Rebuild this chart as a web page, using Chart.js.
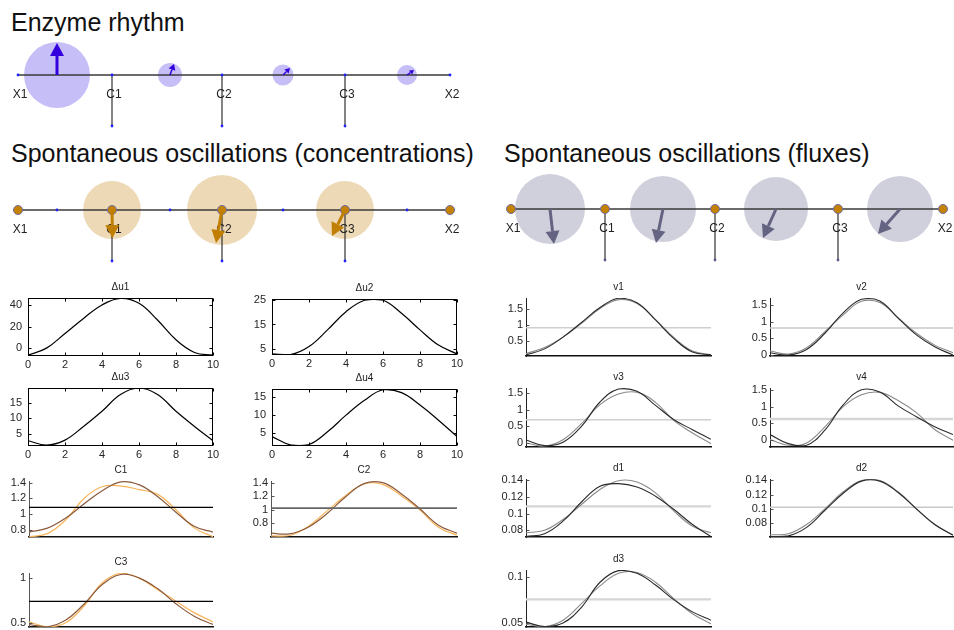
<!DOCTYPE html>
<html>
<head>
<meta charset="utf-8">
<script src="https://cdn.jsdelivr.net/npm/chart.js@4.4.1/dist/chart.umd.min.js"></script>
<style>
  body { margin: 0; background: #fff; width: 954px; height: 630px; position: relative; overflow: hidden;
         font-family: "Liberation Sans", Arial, sans-serif; }
  .head { position: absolute; font-size: 25px; line-height: 25px; color: #111; white-space: nowrap; }
  canvas { position: absolute; }
</style>
</head>
<body>
<div class="head" style="left:11px;top:10px">Enzyme rhythm</div>
<div class="head" style="left:11px;top:141px">Spontaneous oscillations (concentrations)</div>
<div class="head" style="left:504px;top:141px">Spontaneous oscillations (fluxes)</div>
<script>
// ---- network diagrams ----
const nodeNames = ['X1', 'C1', 'C2', 'C3', 'X2'];
const nodeX = [0, 0.94, 2.04, 3.27, 4.32];
const reactionX = [0.39, 1.52, 2.65, 3.89];
const stemDepth = -0.51;

const enzymeSize = [0.33, 0.12, 0.105, 0.10];
const enzymeDir = [[0, 0.32], [0.04, 0.11], [0.07, 0.07], [0.07, 0.05]];
const concSize = [0.29, 0.35, 0.29];
const concDir = [[0.005, -0.28], [-0.06, -0.33], [-0.13, -0.26]];
const fluxSize = [0.35, 0.33, 0.32, 0.33];
const fluxDir = [[0.04, -0.35], [-0.07, -0.34], [-0.13, -0.29], [-0.22, -0.25]];

// ---- time courses ----
const tGrid = [0, 1, 2, 3, 4, 5, 6, 7, 8, 9, 10];
const xTicks = [0, 2, 4, 6, 8, 10];

const du1 = [-6.5, 0, 13.5, 27.5, 40, 46, 41.5, 26, 7.7, -4, -6.5];
const du2 = [3, 2.7, 6, 12.8, 20.2, 24.9, 24.9, 19.6, 12.8, 6.6, 3];
const du3 = [2.8, 1.4, 3, 7.4, 12.3, 17.7, 19.8, 17.7, 12.3, 7.4, 2.8];
const du4 = [4, 1.7, 1.8, 5.3, 9.9, 14, 16.9, 16.1, 12.7, 8.5, 4];

const c1Dark = [0.77, 0.82, 0.95, 1.13, 1.30, 1.41, 1.37, 1.22, 1.02, 0.84, 0.77];
const c1Light = [0.71, 0.75, 0.925, 1.2, 1.35, 1.355, 1.31, 1.25, 1.05, 0.82, 0.71];
const c2Dark = [0.65, 0.64, 0.74, 0.94, 1.19, 1.39, 1.405, 1.24, 1.015, 0.77, 0.65];
const c2Light = [0.61, 0.615, 0.75, 0.98, 1.21, 1.385, 1.38, 1.21, 1.0, 0.74, 0.62];
const c3Dark = [0.48, 0.455, 0.53, 0.71, 0.93, 1.04, 1.0, 0.88, 0.71, 0.57, 0.48];
const c3Light = [0.51, 0.455, 0.5, 0.69, 0.95, 1.055, 1.0, 0.87, 0.74, 0.61, 0.51];
const cRef = [1.084, 1.025, 0.74];

const v1Dark = [0.06, 0.25, 0.62, 1.08, 1.55, 1.84, 1.7, 1.16, 0.57, 0.15, 0.06];
const v1Gray = [0.1, 0.29, 0.62, 1.05, 1.52, 1.8, 1.68, 1.17, 0.6, 0.18, 0.07];
const v2Dark = [0.06, -0.01, 0.16, 0.65, 1.27, 1.68, 1.63, 1.11, 0.6, 0.24, -0.01];
const v2Gray = [0.11, 0.02, 0.21, 0.7, 1.21, 1.62, 1.58, 1.12, 0.65, 0.29, 0.06];
const v3Dark = [0.09, -0.08, 0.02, 0.5, 1.23, 1.62, 1.55, 1.13, 0.7, 0.4, 0.11];
const v3Gray = [0.0, -0.09, 0.1, 0.58, 1.15, 1.47, 1.52, 1.22, 0.67, 0.3, -0.02];
const v4Dark = [0.17, -0.1, -0.15, 0.3, 1.05, 1.5, 1.43, 1.02, 0.7, 0.4, 0.17];
const v4Gray = [0.02, -0.15, -0.08, 0.4, 1.0, 1.35, 1.42, 1.18, 0.82, 0.32, 0.0];
const d1Dark = [0.0725, 0.076, 0.091, 0.114, 0.133, 0.136, 0.132, 0.121, 0.105, 0.087, 0.0725];
const d1Gray = [0.077, 0.08, 0.093, 0.111, 0.129, 0.1395, 0.138, 0.125, 0.103, 0.085, 0.077];
const d2Dark = [0.061, 0.062, 0.074, 0.098, 0.122, 0.139, 0.139, 0.123, 0.1, 0.078, 0.063];
const d2Gray = [0.0635, 0.065, 0.078, 0.1, 0.124, 0.14, 0.14, 0.124, 0.1, 0.078, 0.0635];
const d3Dark = [0.051, 0.0462, 0.05, 0.067, 0.094, 0.1065, 0.1036, 0.091, 0.075, 0.062, 0.053];
const d3Gray = [0.0486, 0.046, 0.053, 0.071, 0.09, 0.1036, 0.1045, 0.094, 0.076, 0.06, 0.049];
const fluxRef = [0.916, 0.81, 0.70, 0.63, 0.1088, 0.1023, 0.0754];

const du1Ticks = [0, 20, 40];
const du2Ticks = [5, 10, 15, 20, 25];
const du3Ticks = [5, 10, 15];
const du4Ticks = [5, 10, 15];
const cTicks = [0.8, 1, 1.2, 1.4];
const c3Ticks = [0.5, 1];
const vTicks1 = [0.5, 1, 1.5];
const vTicks = [0, 0.5, 1, 1.5];
const dTicks = [0.08, 0.1, 0.12, 0.14];
const d3Ticks = [0.05, 0.1];

Chart.defaults.animation = false;
Chart.defaults.font.family = '"Liberation Sans", Arial, sans-serif';
Chart.defaults.color = '#262626';

function makeCanvas(left, top, w, h) {
  const cv = document.createElement('canvas');
  cv.width = w; cv.height = h;
  Object.assign(cv.style, { left: left + 'px', top: top + 'px', width: w + 'px', height: h + 'px' });
  document.body.appendChild(cv);
  return cv;
}

function arrow(ctx, x0, y0, x1, y1, color) {
  const dx = x1 - x0, dy = y1 - y0, len = Math.hypot(dx, dy);
  const big = len > 20;
  const hl = big ? 13 : Math.max(3, len * 0.5), hw = big ? 7 : hl * 0.6;
  const ux = dx / len, uy = dy / len;
  const bx = x1 - ux * hl, by = y1 - uy * hl;
  ctx.strokeStyle = color; ctx.fillStyle = color;
  ctx.lineWidth = big ? 3 : 1.5;
  ctx.beginPath(); ctx.moveTo(x0, y0); ctx.lineTo(bx, by); ctx.stroke();
  ctx.beginPath();
  ctx.moveTo(x1, y1);
  ctx.lineTo(bx - uy * hw, by + ux * hw);
  ctx.lineTo(bx + uy * hw, by - ux * hw);
  ctx.closePath(); ctx.fill();
}

// circles + arrows + node names, all placed through the chart scales
const network = {
  id: 'network',
  beforeDatasetsDraw(chart, args, o) {
    const { ctx, scales: { x, y } } = chart;
    ctx.save();
    ctx.fillStyle = o.fill;
    o.at.forEach((cx, i) => {
      const r = x.getPixelForValue(cx + o.size[i]) - x.getPixelForValue(cx);
      ctx.beginPath();
      ctx.arc(x.getPixelForValue(cx), y.getPixelForValue(0), r, 0, Math.PI * 2);
      ctx.fill();
    });
    ctx.restore();
  },
  afterDatasetsDraw(chart, args, o) {
    const { ctx, scales: { x, y } } = chart;
    ctx.save();
    ctx.font = '12px "Liberation Sans", Arial, sans-serif';
    ctx.fillStyle = '#222';
    ctx.textAlign = 'center'; ctx.textBaseline = 'middle';
    nodeNames.forEach((n, i) => ctx.fillText(n, x.getPixelForValue(nodeX[i] + 0.02), y.getPixelForValue(-0.2)));
    o.at.forEach((cx, i) => {
      const [dx, dy] = o.dir[i];
      arrow(ctx, x.getPixelForValue(cx), y.getPixelForValue(0),
        x.getPixelForValue(cx + dx), y.getPixelForValue(dy), o.arrowColor);
    });
    ctx.restore();
  }
};

function diagram(left, top, cfg) {
  const cv = makeCanvas(left, top, 470, 95);
  const pts = xs => xs.map(x => ({ x, y: 0 }));
  const ds = [{ data: pts(nodeX), showLine: true, borderColor: '#3a3a3a', borderWidth: 1.3, pointRadius: 0, order: 4 }];
  nodeX.slice(1, 4).forEach(x => ds.push({
    data: [{ x, y: 0 }, { x, y: stemDepth }], showLine: true, borderColor: '#333', borderWidth: 1.2, pointRadius: 0, order: 3
  }));
  ds.push({
    data: cfg.dots.concat(nodeX.slice(1, 4).map(x => ({ x, y: stemDepth }))),
    pointRadius: 1.4, pointBackgroundColor: cfg.dotColor, pointBorderWidth: 0, order: 2
  });
  if (cfg.nodes) ds.push({
    data: pts(nodeX), pointRadius: 4.5, pointBackgroundColor: '#c48200',
    pointBorderColor: '#6b6ba8', pointBorderWidth: 1, order: 1
  });
  new Chart(cv, {
    type: 'scatter',
    data: { datasets: ds },
    options: {
      responsive: false, events: [],
      layout: { padding: 0, autoPadding: false },
      plugins: {
        legend: { display: false }, tooltip: { enabled: false },
        network: { at: cfg.at, size: cfg.size, dir: cfg.dir, fill: cfg.fill, arrowColor: cfg.arrowColor }
      },
      scales: {
        x: { display: false, min: -0.18, max: 4.52 },
        y: { display: false, min: -0.60, max: 0.35 }
      }
    },
    plugins: [network]
  });
}

diagram(0, 40, {
  at: reactionX, size: enzymeSize, dir: enzymeDir,
  fill: 'rgba(120,100,235,0.42)', arrowColor: '#3300dd',
  dots: nodeX.map(x => ({ x, y: 0 })), dotColor: '#2222ff', nodes: false
});
diagram(0, 175, {
  at: nodeX.slice(1, 4), size: concSize, dir: concDir,
  fill: 'rgba(210,160,70,0.4)', arrowColor: '#c07f00',
  dots: reactionX.map(x => ({ x, y: 0 })), dotColor: '#2222ff', nodes: true
});
diagram(493, 174, {
  at: reactionX, size: fluxSize, dir: fluxDir,
  fill: 'rgba(150,150,180,0.45)', arrowColor: '#646482',
  dots: [], dotColor: '#5a5a8a', nodes: true
});

// frame and inward tick marks
const frame = {
  id: 'frame',
  afterDraw(chart, args, o) {
    const { ctx, chartArea: a, scales: { x, y } } = chart;
    const L = Math.round(a.left) + 0.5, R = Math.round(a.right) - 0.5;
    const T = Math.round(a.top) + 0.5, B = Math.round(a.bottom) - 0.5;
    ctx.save();
    ctx.strokeStyle = o.box ? '#000' : '#555';
    ctx.lineWidth = 1;
    if (o.box) ctx.strokeRect(L, T, R - L, B - T);
    ctx.beginPath();
    if (o.box) {
      x.ticks.forEach(t => {
        const px = Math.round(x.getPixelForValue(t.value)) + 0.5;
        ctx.moveTo(px, B); ctx.lineTo(px, B - 3);
        ctx.moveTo(px, T); ctx.lineTo(px, T + 3);
      });
    }
    y.ticks.forEach(t => {
      const py = Math.round(y.getPixelForValue(t.value)) + 0.5;
      ctx.moveTo(L, py); ctx.lineTo(L + 3, py);
      if (o.box) { ctx.moveTo(R, py); ctx.lineTo(R - 3, py); }
    });
    ctx.stroke();
    ctx.restore();
  }
};

function panel(p) {
  const YW = 40, TH = 22, XH = 18, RP = 10;
  const [L, R, T, B] = p.box;
  const cv = makeCanvas(L - YW, T - TH, YW + R - L + RP, TH + B - T + XH);
  const isBox = p.kind === 'box';
  const datasets = p.series.map((s, k) => ({
    data: tGrid.map((x, i) => ({ x, y: s[0][i] })),
    borderColor: s[1], borderWidth: s[2], pointRadius: 0, tension: 0.4, order: k + 1
  }));
  if (p.ref !== undefined) datasets.push({
    data: [{ x: 0, y: p.ref }, { x: 10, y: p.ref }],
    borderColor: p.refColor, borderWidth: p.refWidth, pointRadius: 0, order: p.refOnTop ? 0 : 9
  });
  new Chart(cv, {
    type: 'line',
    data: { datasets },
    options: {
      responsive: false, events: [],
      layout: { padding: { right: RP }, autoPadding: false },
      plugins: {
        legend: { display: false }, tooltip: { enabled: false },
        title: {
          display: true, text: p.title, fullSize: false, color: '#222',
          font: { size: 10, weight: 'normal' }, padding: { top: 5, bottom: 5 }
        },
        frame: { box: isBox }
      },
      scales: {
        x: {
          type: 'linear', min: 0, max: 10,
          grid: { display: false, drawTicks: false },
          border: { display: !isBox, color: '#111', width: 1.6 },
          ticks: { display: isBox, font: { size: 11 }, padding: 2, maxRotation: 0 },
          afterBuildTicks: s => { s.ticks = xTicks.map(value => ({ value })); },
          afterFit: s => { s.height = XH; }
        },
        y: {
          min: p.y[0], max: p.y[1],
          grid: { display: false, drawTicks: false },
          border: { display: !isBox, color: p.axisColor || '#555', width: 1 },
          ticks: { font: { size: 11 }, padding: isBox ? 6 : 3, callback: v => +v.toFixed(3) },
          afterBuildTicks: s => { s.ticks = p.ticks.map(value => ({ value })); },
          afterFit: s => { s.width = YW; }
        }
      }
    },
    plugins: [frame]
  });
}

const DARK = '#8b5a3c', LIGHT = '#f7b45a', FD = '#2a2a2a', FG = '#8a8a8a';

[
  { title: 'Δu1', box: [28, 213, 298, 356], y: [-7.3, 46.4], ticks: du1Ticks, kind: 'box', series: [[du1, '#000', 1.2]] },
  { title: 'Δu2', box: [272, 457, 299, 355], y: [2.55, 25.4], ticks: du2Ticks, kind: 'box', series: [[du2, '#000', 1.2]] },
  { title: 'Δu3', box: [28, 213, 388, 446], y: [1.1, 19.8], ticks: du3Ticks, kind: 'box', series: [[du3, '#000', 1.2]] },
  { title: 'Δu4', box: [272, 457, 389, 446], y: [1.4, 17.1], ticks: du4Ticks, kind: 'box', series: [[du4, '#000', 1.2]] },

  { title: 'C1', box: [29, 213, 481, 537], y: [0.707, 1.42], ticks: cTicks, series: [[c1Dark, DARK, 1.2], [c1Light, LIGHT, 1.2]],
    ref: cRef[0], refColor: '#000', refWidth: 1.3, refOnTop: true },
  { title: 'C2', box: [271, 457, 481, 537], y: [0.593, 1.43], ticks: cTicks, series: [[c2Dark, DARK, 1.2], [c2Light, LIGHT, 1.2]],
    ref: cRef[1], refColor: '#666', refWidth: 1.8, refOnTop: true },
  { title: 'C3', box: [29, 213, 573, 627], y: [0.452, 1.057], ticks: c3Ticks, series: [[c3Dark, DARK, 1.2], [c3Light, LIGHT, 1.2]],
    ref: cRef[2], refColor: '#000', refWidth: 1.3, refOnTop: true },

  { title: 'v1', box: [526, 711, 298, 356], y: [0.026, 1.85], ticks: vTicks1, axisColor: '#222', series: [[v1Dark, FD, 1.1], [v1Gray, FG, 1.1]],
    ref: fluxRef[0], refColor: '#cfcfcf', refWidth: 1.5 },
  { title: 'v2', box: [770, 953, 298, 356], y: [-0.04, 1.72], ticks: vTicks, axisColor: '#222', series: [[v2Dark, FD, 1.1], [v2Gray, FG, 1.1]],
    ref: fluxRef[1], refColor: '#c8c8c8', refWidth: 1.5 },
  { title: 'v3', box: [526, 711, 388, 447], y: [-0.12, 1.65], ticks: vTicks, axisColor: '#222', series: [[v3Dark, FD, 1.1], [v3Gray, FG, 1.1]],
    ref: fluxRef[2], refColor: '#cfcfcf', refWidth: 1.5 },
  { title: 'v4', box: [770, 953, 388, 447], y: [-0.2, 1.55], ticks: vTicks, axisColor: '#222', series: [[v4Dark, FD, 1.1], [v4Gray, FG, 1.1]],
    ref: fluxRef[3], refColor: '#d6d6d6', refWidth: 2.4 },
  { title: 'd1', box: [526, 711, 479, 537], y: [0.072, 0.1416], ticks: dTicks, axisColor: '#222', series: [[d1Dark, FD, 1.1], [d1Gray, FG, 1.1]],
    ref: fluxRef[4], refColor: '#d6d6d6', refWidth: 2.2 },
  { title: 'd2', box: [770, 953, 479, 537], y: [0.0604, 0.142], ticks: dTicks, axisColor: '#222', series: [[d2Dark, FD, 1.1], [d2Gray, FG, 1.1]],
    ref: fluxRef[5], refColor: '#c8c8c8', refWidth: 1.5 },
  { title: 'd3', box: [526, 711, 570, 627], y: [0.0457, 0.1072], ticks: d3Ticks, axisColor: '#222', series: [[d3Dark, FD, 1.1], [d3Gray, FG, 1.1]],
    ref: fluxRef[6], refColor: '#d6d6d6', refWidth: 2.2 }
].forEach(panel);
</script>
</body>
</html>
